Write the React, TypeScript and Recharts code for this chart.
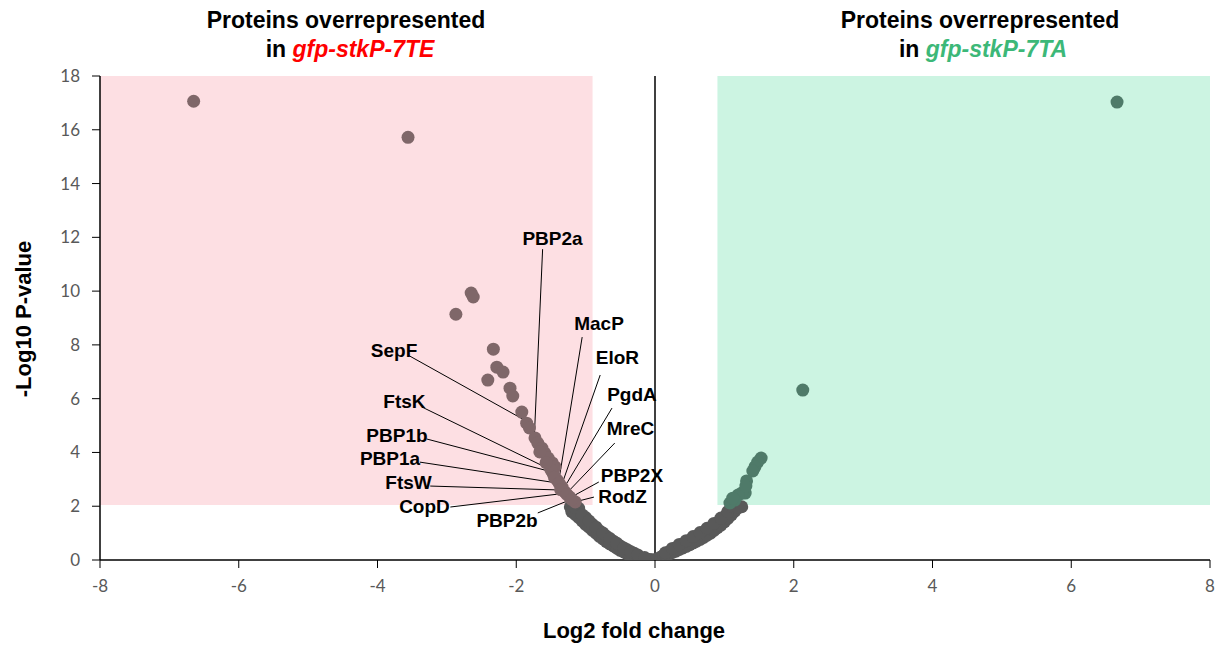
import React from "react";
import { ScatterChart, Scatter, XAxis, YAxis, ReferenceArea, ReferenceLine } from "recharts";

// ---- data ----
const xTicks = [-8, -6, -4, -2, 0, 2, 4, 6, 8];
const yTicks = [0, 2, 4, 6, 8, 10, 12, 14, 16, 18];

// proteins overrepresented in gfp-stkP-7TE (log2FC, -log10 p)
const leftSig: [number, number][] = [
  [-6.65, 17.06], [-3.56, 15.72], [-2.65, 9.93], [-2.62, 9.78], [-2.87, 9.14],
  [-2.33, 7.84], [-2.28, 7.17], [-2.19, 6.99], [-2.41, 6.69], [-2.09, 6.39],
  [-2.05, 6.10], [-1.92, 5.50], [-1.85, 5.09], [-1.81, 4.91], [-1.73, 4.54],
  [-1.69, 4.35], [-1.63, 4.16], [-1.59, 3.98], [-1.54, 3.79], [-1.48, 3.61],
  [-1.44, 3.46], [-1.47, 3.23], [-1.41, 2.97], [-1.34, 2.71], [-1.30, 2.53],
  [-1.23, 2.34], [-1.15, 2.16], [-1.50, 3.35], [-1.45, 3.08], [-1.38, 2.85],
  [-1.36, 2.62], [-1.27, 2.44], [-1.20, 2.25], [-1.57, 3.62], [-1.66, 4.02],
];

// proteins overrepresented in gfp-stkP-7TA
const rightSig: [number, number][] = [
  [6.66, 17.03], [2.13, 6.32], [1.53, 3.79], [1.48, 3.64], [1.44, 3.46],
  [1.41, 3.31], [1.32, 2.94], [1.30, 2.49], [1.25, 2.49], [1.20, 2.42],
  [1.15, 2.23], [1.08, 2.12], [1.31, 2.75], [1.12, 2.30],
];

// non-significant proteins
const grayLeft: [number, number][] = [
  [-1.22, 1.98], [-1.18, 1.88], [-1.15, 1.80], [-1.12, 1.72], [-1.10, 1.78],
  [-1.08, 1.62], [-1.05, 1.55], [-1.02, 1.50], [-1.00, 1.42], [-0.97, 1.35],
  [-0.95, 1.40], [-0.92, 1.25], [-0.90, 1.20], [-0.87, 1.12], [-0.85, 1.15],
  [-0.82, 1.02], [-0.80, 0.96], [-0.77, 0.92], [-0.75, 0.88], [-0.72, 0.80],
  [-0.70, 0.76], [-0.67, 0.72], [-0.65, 0.68], [-0.62, 0.63], [-0.60, 0.60],
  [-0.57, 0.54], [-0.55, 0.50], [-0.52, 0.46], [-0.50, 0.43], [-0.47, 0.38],
  [-0.45, 0.35], [-0.42, 0.32], [-0.40, 0.29], [-0.37, 0.25], [-0.35, 0.22],
  [-0.32, 0.19], [-0.30, 0.17], [-0.27, 0.13], [-0.25, 0.11], [-0.22, 0.08],
  [-0.20, 0.07], [-0.17, 0.05], [-0.15, 0.04], [-0.12, 0.03], [-0.10, 0.02],
  [-0.07, 0.01], [-0.05, 0.01], [-0.02, 0.00],
  [-1.00, 1.58], [-0.90, 1.32], [-0.80, 1.08], [-0.70, 0.88], [-0.60, 0.70],
  [-0.50, 0.52], [-0.40, 0.38], [-0.30, 0.25], [-1.10, 1.92],
  [-1.20, 1.80], [-1.10, 1.58], [-1.00, 1.32], [-0.90, 1.10], [-0.80, 0.88],
  [-0.70, 0.68], [-0.60, 0.52], [-0.50, 0.36], [-0.40, 0.23], [-0.30, 0.12],
  [-0.20, 0.03], [-1.15, 1.70], [-1.05, 1.45], [-0.95, 1.22], [-0.85, 1.00],
  [-0.75, 0.78], [-0.65, 0.60], [-0.55, 0.44], [-0.45, 0.30], [-0.35, 0.17],
  [-1.15, 1.95], [-1.05, 1.68], [-0.95, 1.45], [-0.85, 1.22], [-0.75, 1.00],
  [-0.65, 0.80], [-0.55, 0.62], [-0.45, 0.45], [-0.35, 0.31], [-0.25, 0.19],
  [-0.15, 0.09],
];

const grayRight: [number, number][] = [
  [0.02, 0.02], [0.05, 0.06], [0.08, 0.10], [0.10, 0.13], [0.13, 0.18],
  [0.15, 0.21], [0.18, 0.26], [0.20, 0.29], [0.23, 0.34], [0.25, 0.37],
  [0.28, 0.41], [0.30, 0.44], [0.33, 0.48], [0.35, 0.51], [0.38, 0.55],
  [0.40, 0.58], [0.43, 0.62], [0.45, 0.65], [0.48, 0.69], [0.50, 0.72],
  [0.53, 0.76], [0.55, 0.79], [0.58, 0.83], [0.60, 0.86], [0.63, 0.90],
  [0.65, 0.93], [0.68, 0.97], [0.70, 1.00], [0.73, 1.05], [0.75, 1.08],
  [0.78, 1.13], [0.80, 1.17], [0.83, 1.23], [0.85, 1.27], [0.88, 1.33],
  [0.90, 1.37], [0.93, 1.44], [0.95, 1.48], [0.98, 1.55], [1.00, 1.60],
  [1.03, 1.67], [1.05, 1.72], [1.08, 1.79], [1.10, 1.85], [1.13, 1.91],
  [1.16, 1.97],
  [0.30, 0.36], [0.40, 0.48], [0.50, 0.62], [0.60, 0.78], [0.70, 0.92],
  [0.80, 1.08], [0.95, 1.38], [1.05, 1.62],
  [0.20, 0.22], [0.30, 0.33], [0.40, 0.45], [0.50, 0.57], [0.60, 0.70],
  [0.70, 0.84], [0.80, 1.00], [0.90, 1.20], [1.00, 1.42], [1.10, 1.68],
  [0.25, 0.28], [0.35, 0.39], [0.45, 0.51], [0.55, 0.64], [0.65, 0.77],
  [0.75, 0.92], [0.85, 1.10], [0.95, 1.30], [1.05, 1.55], [1.15, 1.82],
  [0.15, 0.27], [0.25, 0.43], [0.35, 0.58], [0.45, 0.72], [0.55, 0.87],
  [0.65, 1.02], [0.75, 1.18], [0.85, 1.36], [0.95, 1.56], [1.05, 1.80],
  [1.12, 1.98], [1.20, 1.95], [1.25, 1.98],
];

// annotations: name, text baseline position, leader line start, leader line end
const labelNames = ["PBP2a", "MacP", "EloR", "PgdA", "MreC", "PBP2X", "RodZ", "SepF", "FtsK", "PBP1b", "PBP1a", "FtsW", "CopD", "PBP2b"];
const labelPos: [number, number][] = [
  [-1.477, 11.71], [-0.807, 8.55], [-0.541, 7.29], [-0.332, 5.93], [-0.353, 4.65],
  [-0.332, 2.9], [-0.468, 2.12], [-3.762, 7.55], [-3.611, 5.65], [-3.719, 4.39],
  [-3.82, 3.53], [-3.553, 2.64], [-3.323, 1.75], [-2.133, 1.23],
];
const lineStart: [number, number][] = [
  [-1.62, 11.56], [-1.05, 8.29], [-0.79, 6.88], [-0.62, 5.65], [-0.58, 4.35],
  [-0.81, 2.9], [-0.88, 2.34], [-3.56, 7.62], [-3.36, 5.69], [-3.29, 4.5],
  [-3.39, 3.64], [-3.24, 2.75], [-2.95, 1.97], [-1.69, 1.75],
];
const lineEnd: [number, number][] = [
  [-1.74, 4.54], [-1.38, 3.05], [-1.33, 2.9], [-1.27, 2.86], [-1.23, 2.6],
  [-1.15, 2.42], [-1.11, 2.19], [-1.83, 5.13], [-1.61, 3.49], [-1.48, 3.27],
  [-1.4, 2.86], [-1.33, 2.6], [-1.27, 2.49], [-1.23, 2.23],
];

// significance boxes
const boxLeft = { x1: -8, x2: -0.9, y1: 2.05, y2: 18 };
const boxRight = { x1: 0.9, x2: 8, y1: 2.05, y2: 18 };

// ---- helpers ----
const toXY = (arr: [number, number][]) => arr.map(([x, y]) => ({ x, y }));
const labelData = labelNames.map((name, i) => ({ x: labelPos[i][0], y: labelPos[i][1], name }));

const dot = (fill: string) => (props: any) =>
  props.cx == null ? <g /> : <circle cx={props.cx} cy={props.cy} r={6.5} fill={fill} />;

const labelShape = (props: any) =>
  props.cx == null ? <g /> : (
    <text
      x={props.cx}
      y={props.cy}
      textAnchor="middle"
      fontFamily="'Liberation Sans', Arial, sans-serif"
      fontWeight="bold"
      fontSize={19}
      fill="#000"
    >
      {props.payload.name}
    </text>
  );

const FONT = "'Liberation Sans', Arial, sans-serif";
const TICK = { fill: "#595959", fontSize: 17, fontFamily: "Lato, 'Liberation Sans', sans-serif" };

export default function App() {
  return (
    <div style={{ position: "absolute", left: 0, top: 0, width: 1220, height: 645, background: "#fff" }}>
      <ScatterChart width={1220} height={645} margin={{ top: 76, right: 10, bottom: 55, left: 40 }}>
        <ReferenceArea {...boxLeft} fill="#fddfe3" fillOpacity={1} stroke="none" ifOverflow="visible" />
        <ReferenceArea {...boxRight} fill="#ccf4e2" fillOpacity={1} stroke="none" ifOverflow="visible" />
        <XAxis
          type="number"
          dataKey="x"
          domain={[-8, 8]}
          ticks={xTicks}
          interval={0}
          allowDataOverflow
          height={30}
          tickSize={8}
          tickMargin={12}
          tick={TICK}
          axisLine={{ stroke: "#000", strokeWidth: 1.5 }}
          tickLine={{ stroke: "#000", strokeWidth: 1 }}
        />
        <YAxis
          type="number"
          dataKey="y"
          domain={[0, 18]}
          ticks={yTicks}
          interval={0}
          allowDataOverflow
          width={60}
          tickSize={8}
          tickMargin={12}
          tick={TICK}
          axisLine={{ stroke: "#000", strokeWidth: 1.5 }}
          tickLine={{ stroke: "#000", strokeWidth: 1 }}
        />
        <ReferenceLine x={0} stroke="#000" strokeWidth={1.5} />
        <Scatter data={toXY(grayLeft)} shape={dot("#595959")} isAnimationActive={false} />
        <Scatter data={toXY(grayRight)} shape={dot("#595959")} isAnimationActive={false} />
        <Scatter data={toXY(leftSig)} shape={dot("#7f6769")} isAnimationActive={false} />
        <Scatter data={toXY(rightSig)} shape={dot("#4f7a69")} isAnimationActive={false} />
        {lineStart.map((s, i) => (
          <ReferenceLine
            key={"l" + i}
            segment={[{ x: s[0], y: s[1] }, { x: lineEnd[i][0], y: lineEnd[i][1] }]}
            stroke="#000"
            strokeWidth={1}
            ifOverflow="visible"
          />
        ))}
        <Scatter data={labelData} shape={labelShape} isAnimationActive={false} />
      </ScatterChart>
      <svg width={1220} height={645} style={{ position: "absolute", left: 0, top: 0, pointerEvents: "none" }}>
        <g fontFamily={FONT} fontWeight="bold" fontSize={23} textAnchor="middle">
          <text x={346} y={28}>Proteins overrepresented</text>
          <text x={350} y={57}>
            in <tspan fill="#ff0000" fontStyle="italic">gfp-stkP-7TE</tspan>
          </text>
          <text x={980} y={28}>Proteins overrepresented</text>
          <text x={983} y={57}>
            in <tspan fill="#3cb878" fontStyle="italic">gfp-stkP-7TA</tspan>
          </text>
        </g>
        <g fontFamily={FONT} fontWeight="bold" fontSize={22} textAnchor="middle">
          <text x={634} y={638}>Log2 fold change</text>
          <text x={31} y={319} transform="rotate(-90 31 319)">-Log10 P-value</text>
        </g>
      </svg>
    </div>
  );
}
